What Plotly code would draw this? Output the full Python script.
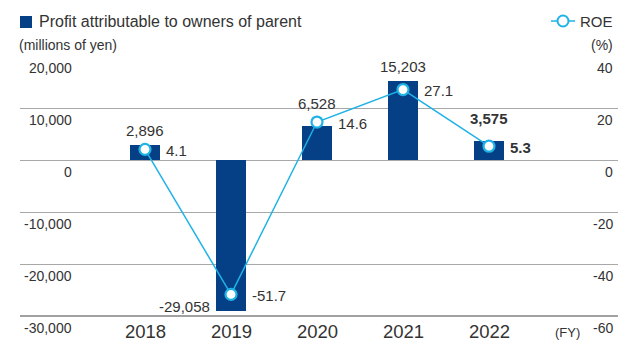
import plotly.graph_objects as go

# Fiscal years and results
years = ["2018", "2019", "2020", "2021", "2022"]
profit = [2896, -29058, 6528, 15203, 3575]          # millions of yen
roe = [4.1, -51.7, 14.6, 27.1, 5.3]                  # %
profit_labels = ["2,896", "-29,058", "6,528", "15,203", "3,575"]
roe_labels = ["4.1", "-51.7", "14.6", "27.1", "5.3"]
left_ticks = [20000, 10000, 0, -10000, -20000, -30000]
left_tick_text = ["20,000", "10,000", "0", "-10,000", "-20,000", "-30,000"]
right_tick_text = ["40", "20", "0", "-20", "-40", "-60"]

W, H = 621, 346
L, R, T, B = 20, 3, 56, 30
PW, PH = W - L - R, H - T - B

NAVY = "#053f86"
CYAN = "#1fb2e6"
TXT = "#333333"
GRID = "#a8a8a8"
FONT = "Liberation Sans, Arial, sans-serif"


def px_x(p):
    return (p - L) / PW


def px_y(p):
    return (H - B - p) / PH


xs = list(range(len(years)))

fig = go.Figure()
fig.add_trace(go.Bar(
    x=xs, y=profit, width=0.35, marker=dict(color=NAVY, line=dict(width=0)),
    yaxis="y", showlegend=False, hoverinfo="skip",
))
fig.add_trace(go.Scatter(
    x=xs, y=roe, yaxis="y2", mode="lines+markers",
    line=dict(color=CYAN, width=1.5),
    marker=dict(size=11, color="white", line=dict(color=CYAN, width=2.2)),
    showlegend=False, hoverinfo="skip",
))

ann = []
# value labels for bars
bar_shift = [4, 0, 12, 4, 12]
for i, (v, t) in enumerate(zip(profit, profit_labels)):
    bold = i == len(years) - 1
    txt = f"<b>{t}</b>" if bold else t
    if v >= 0:
        ann.append(dict(x=i, y=v, xref="x", yref="y", text=txt, showarrow=False,
                        xanchor="center", yanchor="bottom", yshift=bar_shift[i],
                        font=dict(size=15, color=TXT, family=FONT)))
    else:
        ann.append(dict(x=i, y=v, xref="x", yref="y", text=txt, showarrow=False,
                        xanchor="right", yanchor="middle", xshift=-19, yshift=5,
                        font=dict(size=15, color=TXT, family=FONT)))
# value labels for ROE
for i, (v, t) in enumerate(zip(roe, roe_labels)):
    bold = i == len(years) - 1
    txt = f"<b>{t}</b>" if bold else t
    ann.append(dict(x=i, y=v, xref="x", yref="y2", text=txt, showarrow=False,
                    xanchor="left", yanchor="middle", xshift=19, yshift=-1,
                    font=dict(size=15, color=TXT, family=FONT)))

# axis tick labels, sitting just under each gridline
for v, lt, rt in zip(left_ticks, left_tick_text, right_tick_text):
    ann.append(dict(x=px_x(74), y=v, xref="paper", yref="y", text=lt, showarrow=False,
                    xanchor="right", yanchor="top", yshift=-2,
                    font=dict(size=14, color=TXT, family=FONT)))
    ann.append(dict(x=px_x(615), y=v, xref="paper", yref="y", text=rt, showarrow=False,
                    xanchor="right", yanchor="top", yshift=-2,
                    font=dict(size=14, color=TXT, family=FONT)))

# category labels
for i, yr in enumerate(years):
    ann.append(dict(x=i, y=px_y(331), xref="x", yref="paper", text=yr, showarrow=False,
                    xanchor="center", yanchor="middle",
                    font=dict(size=18.5, color=TXT, family=FONT)))
ann.append(dict(x=px_x(567), y=px_y(332), xref="paper", yref="paper", text="(FY)",
                showarrow=False, xanchor="center", yanchor="middle",
                font=dict(size=13, color=TXT, family=FONT)))

# legend and units
ann += [
    dict(x=px_x(37), y=px_y(21), xref="paper", yref="paper",
         text="Profit attributable to owners of parent", showarrow=False,
         xanchor="left", yanchor="middle", font=dict(size=16, color=TXT, family=FONT)),
    dict(x=px_x(17), y=px_y(45), xref="paper", yref="paper", text="(millions of yen)",
         showarrow=False, xanchor="left", yanchor="middle",
         font=dict(size=14, color=TXT, family=FONT)),
    dict(x=px_x(615), y=px_y(21), xref="paper", yref="paper", text="ROE",
         showarrow=False, xanchor="right", yanchor="middle",
         font=dict(size=15, color=TXT, family=FONT)),
    dict(x=px_x(615), y=px_y(45), xref="paper", yref="paper", text="(%)",
         showarrow=False, xanchor="right", yanchor="middle",
         font=dict(size=14, color=TXT, family=FONT)),
]

shapes = [
    dict(type="rect", xref="paper", yref="paper", x0=px_x(20), x1=px_x(32),
         y0=px_y(28), y1=px_y(16), fillcolor=NAVY, line=dict(width=0)),
    dict(type="line", xref="paper", yref="paper", x0=px_x(551), x1=px_x(575),
         y0=px_y(21), y1=px_y(21), line=dict(color=CYAN, width=1.5)),
    dict(type="circle", xref="paper", yref="paper", x0=px_x(557.5), x1=px_x(568.5),
         y0=px_y(26.5), y1=px_y(15.5), fillcolor="white", line=dict(color=CYAN, width=2)),
    # baseline of the plot
    dict(type="line", xref="paper", yref="paper", x0=0, x1=1, y0=0, y1=0,
         line=dict(color="#444444", width=1.2)),
]

x_lo = (L - 145) / 86
x_hi = (W - R - 145) / 86

fig.update_layout(
    width=W, height=H,
    margin=dict(l=L, r=R, t=T, b=B, pad=0),
    paper_bgcolor="white", plot_bgcolor="white",
    font=dict(family=FONT, color=TXT),
    xaxis=dict(range=[x_lo, x_hi], showgrid=False, zeroline=False,
               showticklabels=False, ticks="", showline=False, fixedrange=True),
    yaxis=dict(range=[-30000, 20000], dtick=10000, tick0=0, showgrid=True,
               gridcolor=GRID, gridwidth=1.2, zeroline=False, showticklabels=False,
               ticks="", showline=False),
    yaxis2=dict(range=[-60, 40], overlaying="y", side="right", showgrid=False,
                zeroline=False, showticklabels=False, ticks="", showline=False),
    annotations=ann, shapes=shapes, bargap=0,
)

fig.write_html("out.html")
